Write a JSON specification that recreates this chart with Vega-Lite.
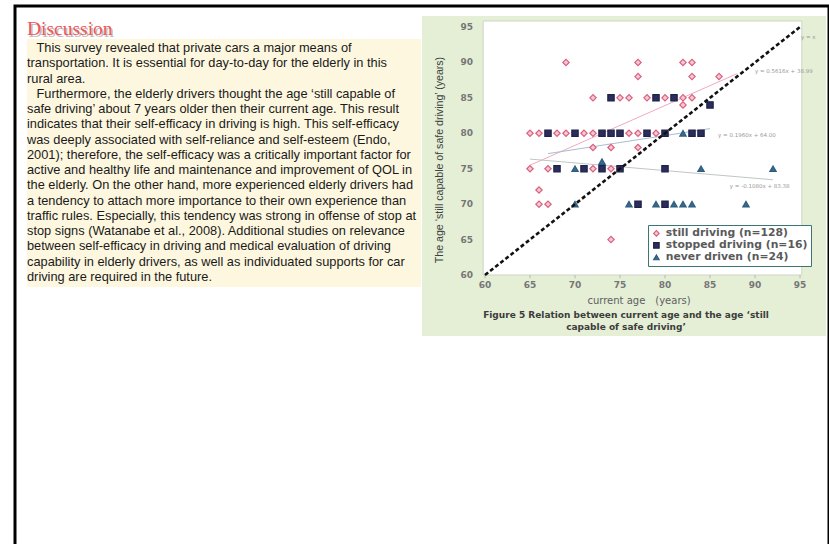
{
  "$schema": "https://vega.github.io/schema/vega-lite/v6.json",
  "width": 814,
  "height": 560,
  "autosize": {"type": "none"},
  "padding": {"left": 15, "top": 6, "right": 0, "bottom": -22},
  "background": "white",
  "config": {"view": {"stroke": "#000000", "strokeWidth": 3}},
  "datasets": {
    "one": [{}],
    "ticks": [{"v": 60}, {"v": 65}, {"v": 70}, {"v": 75}, {"v": 80}, {"v": 85}, {"v": 90}, {"v": 95}],
    "lines": [
      {"line": 1, "indent": true, "text": "This survey revealed that private cars a major means of"},
      {"line": 2, "indent": false, "text": "transportation. It is essential for day-to-day for the elderly in this"},
      {"line": 3, "indent": false, "text": "rural area."},
      {"line": 4, "indent": true, "text": "Furthermore, the elderly drivers thought the age \u2018still capable of"},
      {"line": 5, "indent": false, "text": "safe driving\u2019 about 7 years older then their current age. This result"},
      {"line": 6, "indent": false, "text": "indicates that their self-efficacy in driving is high. This self-efficacy"},
      {"line": 7, "indent": false, "text": "was deeply associated with self-reliance and self-esteem (Endo,"},
      {"line": 8, "indent": false, "text": "2001); therefore, the self-efficacy was a critically important factor for"},
      {"line": 9, "indent": false, "text": "active and healthy life and maintenance and improvement of QOL in"},
      {"line": 10, "indent": false, "text": "the elderly. On the other hand, more experienced elderly drivers had"},
      {"line": 11, "indent": false, "text": "a tendency to attach more importance to their own experience than"},
      {"line": 12, "indent": false, "text": "traffic rules. Especially, this tendency was strong in offense of stop at"},
      {"line": 13, "indent": false, "text": "stop signs (Watanabe et al., 2008). Additional studies on relevance"},
      {"line": 14, "indent": false, "text": "between self-efficacy in driving and medical evaluation of driving"},
      {"line": 15, "indent": false, "text": "capability in elderly drivers, as well as individuated supports for car"},
      {"line": 16, "indent": false, "text": "driving are required in the future."}
    ],
    "drivers": [
      {"group": "still driving (n=128)", "age": 69, "capable": 90},
      {"group": "still driving (n=128)", "age": 77, "capable": 90},
      {"group": "still driving (n=128)", "age": 82, "capable": 90},
      {"group": "still driving (n=128)", "age": 83, "capable": 90},
      {"group": "still driving (n=128)", "age": 77, "capable": 88},
      {"group": "still driving (n=128)", "age": 83, "capable": 88},
      {"group": "still driving (n=128)", "age": 86, "capable": 88},
      {"group": "still driving (n=128)", "age": 72, "capable": 85},
      {"group": "still driving (n=128)", "age": 75, "capable": 85},
      {"group": "still driving (n=128)", "age": 76, "capable": 85},
      {"group": "still driving (n=128)", "age": 78, "capable": 85},
      {"group": "still driving (n=128)", "age": 80, "capable": 85},
      {"group": "still driving (n=128)", "age": 82, "capable": 85},
      {"group": "still driving (n=128)", "age": 83, "capable": 85},
      {"group": "still driving (n=128)", "age": 82, "capable": 84},
      {"group": "still driving (n=128)", "age": 65, "capable": 80},
      {"group": "still driving (n=128)", "age": 66, "capable": 80},
      {"group": "still driving (n=128)", "age": 68, "capable": 80},
      {"group": "still driving (n=128)", "age": 69, "capable": 80},
      {"group": "still driving (n=128)", "age": 71, "capable": 80},
      {"group": "still driving (n=128)", "age": 72, "capable": 80},
      {"group": "still driving (n=128)", "age": 76, "capable": 80},
      {"group": "still driving (n=128)", "age": 77, "capable": 80},
      {"group": "still driving (n=128)", "age": 79, "capable": 80},
      {"group": "still driving (n=128)", "age": 72, "capable": 78},
      {"group": "still driving (n=128)", "age": 74, "capable": 78},
      {"group": "still driving (n=128)", "age": 77, "capable": 78},
      {"group": "still driving (n=128)", "age": 65, "capable": 75},
      {"group": "still driving (n=128)", "age": 67, "capable": 75},
      {"group": "still driving (n=128)", "age": 72, "capable": 75},
      {"group": "still driving (n=128)", "age": 74, "capable": 75},
      {"group": "still driving (n=128)", "age": 66, "capable": 72},
      {"group": "still driving (n=128)", "age": 66, "capable": 70},
      {"group": "still driving (n=128)", "age": 67, "capable": 70},
      {"group": "still driving (n=128)", "age": 74, "capable": 65},
      {"group": "stopped driving (n=16)", "age": 74, "capable": 85},
      {"group": "stopped driving (n=16)", "age": 79, "capable": 85},
      {"group": "stopped driving (n=16)", "age": 81, "capable": 85},
      {"group": "stopped driving (n=16)", "age": 85, "capable": 84},
      {"group": "stopped driving (n=16)", "age": 67, "capable": 80},
      {"group": "stopped driving (n=16)", "age": 70, "capable": 80},
      {"group": "stopped driving (n=16)", "age": 73, "capable": 80},
      {"group": "stopped driving (n=16)", "age": 74, "capable": 80},
      {"group": "stopped driving (n=16)", "age": 75, "capable": 80},
      {"group": "stopped driving (n=16)", "age": 78, "capable": 80},
      {"group": "stopped driving (n=16)", "age": 80, "capable": 80},
      {"group": "stopped driving (n=16)", "age": 83, "capable": 80},
      {"group": "stopped driving (n=16)", "age": 84, "capable": 80},
      {"group": "stopped driving (n=16)", "age": 68, "capable": 75},
      {"group": "stopped driving (n=16)", "age": 71, "capable": 75},
      {"group": "stopped driving (n=16)", "age": 73, "capable": 75},
      {"group": "stopped driving (n=16)", "age": 75, "capable": 75},
      {"group": "stopped driving (n=16)", "age": 80, "capable": 75},
      {"group": "stopped driving (n=16)", "age": 77, "capable": 70},
      {"group": "stopped driving (n=16)", "age": 80, "capable": 70},
      {"group": "never driven (n=24)", "age": 82, "capable": 80},
      {"group": "never driven (n=24)", "age": 73, "capable": 76},
      {"group": "never driven (n=24)", "age": 70, "capable": 75},
      {"group": "never driven (n=24)", "age": 84, "capable": 75},
      {"group": "never driven (n=24)", "age": 92, "capable": 75},
      {"group": "never driven (n=24)", "age": 70, "capable": 70},
      {"group": "never driven (n=24)", "age": 76, "capable": 70},
      {"group": "never driven (n=24)", "age": 79, "capable": 70},
      {"group": "never driven (n=24)", "age": 81, "capable": 70},
      {"group": "never driven (n=24)", "age": 82, "capable": 70},
      {"group": "never driven (n=24)", "age": 83, "capable": 70},
      {"group": "never driven (n=24)", "age": 89, "capable": 70}
    ],
    "fits": [
      {"group": "still", "age": 65, "fit": 75.49},
      {"group": "still", "age": 88, "fit": 88.41},
      {"group": "stopped", "age": 67, "fit": 77.13},
      {"group": "stopped", "age": 85, "fit": 80.66},
      {"group": "never", "age": 65, "fit": 76.36},
      {"group": "never", "age": 92, "fit": 73.44}
    ],
    "diag": [{"v": 60}, {"v": 95}]
  },
  "layer": [
    {
      "layer": [
        {
          "data": {"name": "one"},
          "mark": {"type": "rect", "fill": "#fdf7df"},
          "encoding": {
            "x": {"datum": 0, "type": "quantitative", "scale": {"domain": [-12, 802], "nice": false, "zero": false}, "axis": null},
            "x2": {"datum": 394},
            "y": {"datum": 0.41, "type": "quantitative", "scale": {"domain": [-1.7541, 34.967], "reverse": true, "nice": false, "zero": false}, "axis": null},
            "y2": {"datum": 16.672}
          }
        },
        {
          "data": {"name": "one"},
          "mark": {"type": "text", "text": "Discussion", "font": "Liberation Serif", "fontSize": 19.5, "fill": "#bdbdbd", "align": "left", "baseline": "alphabetic", "dx": 1.5, "dy": 1.5},
          "encoding": {
            "x": {"datum": 0, "type": "quantitative", "scale": {"domain": [-12, 802], "nice": false, "zero": false}, "axis": null},
            "y": {"datum": 0.16, "type": "quantitative", "scale": {"domain": [-1.7541, 34.967], "reverse": true, "nice": false, "zero": false}, "axis": null}
          }
        },
        {
          "data": {"name": "one"},
          "mark": {"type": "text", "text": "Discussion", "font": "Liberation Serif", "fontSize": 19.5, "fill": "#f05656", "align": "left", "baseline": "alphabetic"},
          "encoding": {
            "x": {"datum": 0, "type": "quantitative", "scale": {"domain": [-12, 802], "nice": false, "zero": false}, "axis": null},
            "y": {"datum": 0.16, "type": "quantitative", "scale": {"domain": [-1.7541, 34.967], "reverse": true, "nice": false, "zero": false}, "axis": null}
          }
        },
        {
          "data": {"name": "lines"},
          "transform": [{"filter": "!datum.indent"}],
          "mark": {"type": "text", "font": "Liberation Sans", "fontSize": 12.8, "fill": "#1a1a1a", "align": "left", "baseline": "middle"},
          "encoding": {
            "x": {"datum": 0, "type": "quantitative", "scale": {"domain": [-12, 802], "nice": false, "zero": false}, "axis": null},
            "y": {"field": "line", "type": "quantitative", "scale": {"domain": [-1.7541, 34.967], "reverse": true, "nice": false, "zero": false}, "axis": null},
            "text": {"field": "text"}
          }
        },
        {
          "data": {"name": "lines"},
          "transform": [{"filter": "datum.indent"}],
          "mark": {"type": "text", "font": "Liberation Sans", "fontSize": 12.8, "fill": "#1a1a1a", "align": "left", "baseline": "middle", "dx": 9.5},
          "encoding": {
            "x": {"datum": 0, "type": "quantitative", "scale": {"domain": [-12, 802], "nice": false, "zero": false}, "axis": null},
            "y": {"field": "line", "type": "quantitative", "scale": {"domain": [-1.7541, 34.967], "reverse": true, "nice": false, "zero": false}, "axis": null},
            "text": {"field": "text"}
          }
        }
      ]
    },
    {
      "layer": [
        {
          "data": {"name": "one"},
          "mark": {"type": "rect", "fill": "#e4efd6"},
          "encoding": {
            "x": {"datum": 53.0, "type": "quantitative", "scale": {"domain": [7.778, 98.222], "nice": false, "zero": false}, "axis": null},
            "x2": {"datum": 97.89},
            "y": {"datum": 51.39, "type": "quantitative", "scale": {"domain": [18.932, 97.964], "nice": false, "zero": false}, "axis": null},
            "y2": {"datum": 96.55}
          }
        },
        {
          "data": {"name": "one"},
          "mark": {"type": "rect", "fill": "#ffffff", "stroke": "#cdd6c4", "strokeWidth": 1},
          "encoding": {
            "x": {"datum": 59.8, "type": "quantitative", "axis": null},
            "x2": {"datum": 95.2},
            "y": {"datum": 60, "type": "quantitative", "axis": null},
            "y2": {"datum": 95.85}
          }
        },
        {
          "data": {"name": "ticks"},
          "mark": {"type": "rule", "stroke": "#b4bcaa", "strokeWidth": 1},
          "encoding": {
            "x": {"field": "v", "type": "quantitative", "axis": null},
            "y": {"datum": 60, "type": "quantitative", "axis": null},
            "y2": {"datum": 59.55}
          }
        },
        {
          "data": {"name": "ticks"},
          "mark": {"type": "text", "font": "DejaVu Sans", "fontSize": 9, "fontWeight": "bold", "fill": "#767676", "align": "center", "baseline": "middle"},
          "encoding": {
            "x": {"field": "v", "type": "quantitative", "axis": null},
            "y": {"datum": 58.59, "type": "quantitative", "axis": null},
            "text": {"field": "v", "type": "quantitative"}
          }
        },
        {
          "data": {"name": "ticks"},
          "mark": {"type": "text", "font": "DejaVu Sans", "fontSize": 9, "fontWeight": "bold", "fill": "#767676", "align": "right", "baseline": "middle"},
          "encoding": {
            "x": {"datum": 58.67, "type": "quantitative", "axis": null},
            "y": {"field": "v", "type": "quantitative", "axis": null},
            "text": {"field": "v", "type": "quantitative"}
          }
        },
        {
          "data": {"name": "one"},
          "mark": {"type": "text", "text": "current age\u3000(years)", "font": "DejaVu Sans", "fontSize": 10, "fill": "#5e5e5e", "align": "center", "baseline": "middle"},
          "encoding": {
            "x": {"datum": 77.11, "type": "quantitative", "axis": null},
            "y": {"datum": 56.4, "type": "quantitative", "axis": null}
          }
        },
        {
          "data": {"name": "one"},
          "mark": {"type": "text", "text": "The age \u2018still capable of safe driving\u2019  (years)", "font": "Liberation Sans", "fontSize": 10.6, "fill": "#404040", "align": "center", "baseline": "middle", "angle": 270},
          "encoding": {
            "x": {"datum": 55.0, "type": "quantitative", "axis": null},
            "y": {"datum": 76.23, "type": "quantitative", "axis": null}
          }
        },
        {
          "data": {"name": "fits"},
          "transform": [{"filter": "datum.group === 'still'"}],
          "mark": {"type": "line", "stroke": "#f2a9bd", "strokeWidth": 1},
          "encoding": {
            "x": {"field": "age", "type": "quantitative", "axis": null},
            "y": {"field": "fit", "type": "quantitative", "axis": null}
          }
        },
        {
          "data": {"name": "fits"},
          "transform": [{"filter": "datum.group === 'stopped'"}],
          "mark": {"type": "line", "stroke": "#a9bcd6", "strokeWidth": 1},
          "encoding": {
            "x": {"field": "age", "type": "quantitative", "axis": null},
            "y": {"field": "fit", "type": "quantitative", "axis": null}
          }
        },
        {
          "data": {"name": "fits"},
          "transform": [{"filter": "datum.group === 'never'"}],
          "mark": {"type": "line", "stroke": "#bfc6c6", "strokeWidth": 1},
          "encoding": {
            "x": {"field": "age", "type": "quantitative", "axis": null},
            "y": {"field": "fit", "type": "quantitative", "axis": null}
          }
        },
        {
          "data": {"name": "drivers"},
          "mark": {"type": "point", "filled": true, "size": 40, "strokeWidth": 1.2, "opacity": 1},
          "encoding": {
            "x": {"field": "age", "type": "quantitative", "axis": null},
            "y": {"field": "capable", "type": "quantitative", "axis": null},
            "fill": {"field": "group", "type": "nominal",
              "scale": {"domain": ["still driving (n=128)", "stopped driving (n=16)", "never driven (n=24)"], "range": ["#f6c9d5", "#2b2e5c", "#3a6b8e"]},
              "legend": {"orient": "none", "legendX": 633, "legendY": 219, "title": null, "fillColor": "#ffffff", "strokeColor": "#3f7474", "padding": 3, "rowPadding": 0, "labelFont": "DejaVu Sans", "labelFontSize": 10.8, "labelFontWeight": "bold", "labelColor": "#5a5a5a", "symbolSize": 30, "symbolStrokeWidth": 1.2, "zindex": 1}},
            "stroke": {"field": "group", "type": "nominal",
              "scale": {"domain": ["still driving (n=128)", "stopped driving (n=16)", "never driven (n=24)"], "range": ["#d9607f", "#1e2148", "#2d5c7e"]},
              "legend": {"orient": "none", "legendX": 633, "legendY": 219, "title": null, "fillColor": "#ffffff", "strokeColor": "#3f7474", "padding": 3, "rowPadding": 0, "labelFont": "DejaVu Sans", "labelFontSize": 10.8, "labelFontWeight": "bold", "labelColor": "#5a5a5a", "symbolSize": 30, "symbolStrokeWidth": 1.2, "zindex": 1}},
            "shape": {"field": "group", "type": "nominal",
              "scale": {"domain": ["still driving (n=128)", "stopped driving (n=16)", "never driven (n=24)"], "range": ["diamond", "square", "triangle-up"]},
              "legend": {"orient": "none", "legendX": 633, "legendY": 219, "title": null, "fillColor": "#ffffff", "strokeColor": "#3f7474", "padding": 3, "rowPadding": 0, "labelFont": "DejaVu Sans", "labelFontSize": 10.8, "labelFontWeight": "bold", "labelColor": "#5a5a5a", "symbolSize": 30, "symbolStrokeWidth": 1.2, "zindex": 1}}
          }
        },
        {
          "data": {"name": "diag"},
          "mark": {"type": "line", "stroke": "#111111", "strokeWidth": 2.6, "strokeDash": [4, 2.5]},
          "encoding": {
            "x": {"field": "v", "type": "quantitative", "axis": null},
            "y": {"field": "v", "type": "quantitative", "axis": null}
          }
        },
        {
          "data": {"name": "one"},
          "mark": {"type": "text", "text": "y = x", "font": "DejaVu Sans", "fontSize": 5.5, "fill": "#9a9a9a", "align": "left", "baseline": "middle"},
          "encoding": {
            "x": {"datum": 95.1, "type": "quantitative", "axis": null},
            "y": {"datum": 93.6, "type": "quantitative", "axis": null}
          }
        },
        {
          "data": {"name": "one"},
          "mark": {"type": "text", "text": "y = 0.5616x + 38.99", "font": "DejaVu Sans", "fontSize": 5.5, "fill": "#9a9a9a", "align": "left", "baseline": "middle"},
          "encoding": {
            "x": {"datum": 90.0, "type": "quantitative", "axis": null},
            "y": {"datum": 88.8, "type": "quantitative", "axis": null}
          }
        },
        {
          "data": {"name": "one"},
          "mark": {"type": "text", "text": "y = 0.1960x + 64.00", "font": "DejaVu Sans", "fontSize": 5.5, "fill": "#9a9a9a", "align": "left", "baseline": "middle"},
          "encoding": {
            "x": {"datum": 85.9, "type": "quantitative", "axis": null},
            "y": {"datum": 79.8, "type": "quantitative", "axis": null}
          }
        },
        {
          "data": {"name": "one"},
          "mark": {"type": "text", "text": "y = -0.1080x + 83.38", "font": "DejaVu Sans", "fontSize": 5.5, "fill": "#9a9a9a", "align": "left", "baseline": "middle"},
          "encoding": {
            "x": {"datum": 87.2, "type": "quantitative", "axis": null},
            "y": {"datum": 72.6, "type": "quantitative", "axis": null}
          }
        },
        {
          "data": {"name": "one"},
          "mark": {"type": "text", "text": ["Figure 5  Relation between current age and the age \u2018still", "capable of safe driving\u2019"], "font": "DejaVu Sans", "fontSize": 9, "fontWeight": "bold", "fill": "#3c3c3c", "align": "center", "baseline": "middle", "lineHeight": 12},
          "encoding": {
            "x": {"datum": 75.67, "type": "quantitative", "axis": null},
            "y": {"datum": 54.3, "type": "quantitative", "axis": null}
          }
        }
      ]
    }
  ],
  "resolve": {"scale": {"x": "independent", "y": "independent"}}
}
